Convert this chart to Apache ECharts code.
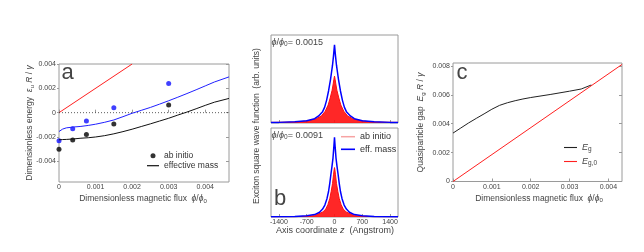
<!DOCTYPE html>
<html><head><meta charset="utf-8">
<script src="https://cdn.jsdelivr.net/npm/echarts@6/dist/echarts.min.js"></script>
<style>html,body{margin:0;padding:0;background:#fff}#c{width:644px;height:252px}</style>
</head><body><div id="c"></div><script>
// ---------- Panel a ----------
const aDotX = [0, 0.000375, 0.00075, 0.0015, 0.003];
const aDotBlack = [-0.0030, -0.00224, -0.0018, -0.00093, 0.00063];
const aDotBlue = [-0.0023, -0.00133, -0.00068, 0.00041, 0.0024];
const aLineX = [0, 0.00005, 0.0001, 0.0002, 0.0004, 0.0006, 0.0008, 0.001, 0.00125, 0.0015, 0.00175, 0.002, 0.00225, 0.0025, 0.00275, 0.003, 0.00325, 0.0035, 0.00375, 0.004, 0.00425, 0.00465];
const aLineBlue = [-0.00155, -0.00143, -0.00135, -0.00125, -0.00118, -0.00113, -0.00105, -0.00095, -0.00079, -0.0006, -0.00033, -0.00005, 0.00019, 0.00043, 0.0007, 0.00098, 0.00127, 0.00157, 0.00188, 0.0022, 0.00252, 0.00294];
const aLineBlack = [-0.00223, -0.00222, -0.00221, -0.0022, -0.00216, -0.0021, -0.00206, -0.002, -0.00189, -0.00174, -0.00156, -0.00136, -0.00114, -0.00092, -0.00069, -0.00046, -0.0002, 0.00005, 0.00032, 0.0006, 0.00086, 0.00117];
const aRedX = [0, 0.002];
const aRedY = [0, 0.004];
const aZeroX = [0, 0.00465];
const aTicksX = [0, 0.001, 0.002, 0.003, 0.004];
const aTicksY = [-0.004, -0.002, 0, 0.002, 0.004];

// ---------- Panel b ----------
const bTopBlueZ = [-1600,-1400,-1000,-700,-500,-400,-300,-250,-200,-150,-100,-75,-50,-25,0,25,50,75,100,150,200,250,300,400,500,700,1000,1400,1600];
const bTopBlue  = [0.006,0.008,0.015,0.03,0.055,0.09,0.145,0.2,0.29,0.41,0.56,0.65,0.74,0.86,1.0,0.86,0.74,0.65,0.56,0.41,0.29,0.2,0.145,0.09,0.055,0.03,0.015,0.008,0.006];
const bTopRedZ = [-1600,-1000,-700,-460,-330,-234,-160,-109,-60,-33,-15,0,15,33,60,109,160,234,330,460,700,1000,1600];
const bTopRed  = [0.008,0.012,0.025,0.055,0.09,0.15,0.23,0.32,0.42,0.5,0.56,0.6,0.56,0.5,0.42,0.32,0.23,0.15,0.09,0.055,0.025,0.012,0.008];
const bBotBlueZ = [-1600,-1000,-700,-500,-376,-300,-243,-190,-150,-120,-92,-65,-38,-18,0,18,38,65,92,120,150,190,243,300,376,500,700,1000,1600];
const bBotBlue  = [0.003,0.006,0.015,0.03,0.06,0.1,0.15,0.23,0.32,0.42,0.53,0.63,0.74,0.87,1.0,0.87,0.74,0.63,0.53,0.42,0.32,0.23,0.15,0.1,0.06,0.03,0.015,0.006,0.003];
const bBotRedZ = [-1600,-1000,-700,-500,-293,-220,-167,-120,-84,-50,-25,-10,0,10,25,50,84,120,167,220,293,500,700,1000,1600];
const bBotRed  = [0.004,0.005,0.008,0.018,0.063,0.1,0.155,0.23,0.32,0.42,0.53,0.59,0.62,0.59,0.53,0.42,0.32,0.23,0.155,0.1,0.063,0.018,0.008,0.005,0.004];
const bTicksX = [-1400, -700, 0, 700, 1400];

// ---------- Panel c ----------
const cX  = [0, 0.0002, 0.0004, 0.0006, 0.0008, 0.001, 0.0012, 0.0014, 0.0016, 0.0018, 0.002, 0.0025, 0.003, 0.0033, 0.00356];
const cEg = [0.00335, 0.0037, 0.00405, 0.00437, 0.00468, 0.005, 0.00527, 0.00545, 0.00559, 0.00571, 0.00581, 0.00602, 0.00625, 0.0064, 0.00668];
const cRedX = [0, 0.00435];
const cRedY = [0, 0.0081];
const cTicksX = [0, 0.001, 0.002, 0.003, 0.004];
const cTicksY = [0, 0.002, 0.004, 0.006, 0.008];

const zip = (xs, ys) => xs.map((x, i) => [x, ys[i]]);
const FONT = '"Liberation Sans", Arial, sans-serif';
const AX = '#9a9a9a';
const TXT = '#444';
const fmt3 = v => (Math.abs(v) < 1e-12 ? '0' : v.toFixed(3));

function xAx(grid, min, max, ticks, showLabels, fmt) {
  return {
    type: 'value', gridIndex: grid, min, max,
    axisLine: { show: false },
    splitLine: { show: false },
    axisTick: { show: true, inside: true, length: 3, customValues: ticks, lineStyle: { color: AX } },
    axisLabel: { show: showLabels, customValues: ticks, formatter: fmt, fontSize: 7, fontFamily: FONT, color: TXT, margin: 2 }
  };
}
function yAx(grid, min, max, ticks, showLabels, fmt, pos, inside) {
  return {
    type: 'value', gridIndex: grid, min, max, position: pos,
    axisLine: { show: false },
    splitLine: { show: false },
    axisTick: { show: !!ticks, inside: inside, length: inside ? 3 : 2, customValues: ticks || [], lineStyle: { color: AX } },
    axisLabel: { show: showLabels, customValues: ticks || [], formatter: fmt, fontSize: 7, fontFamily: FONT, color: TXT, margin: 3 }
  };
}

function rich(size) {
  const sz = Math.round(size * 0.72 * 10) / 10;
  return {
    t: { fontSize: size, fontFamily: FONT, fill: TXT, color: TXT, lineHeight: size + 2 },
    i: { fontSize: size, fontFamily: FONT, fill: TXT, color: TXT, fontStyle: 'italic', lineHeight: size + 2 },
    s: { fontSize: sz, fontFamily: FONT, fill: TXT, color: TXT, verticalAlign: 'bottom', lineHeight: sz + 1 }
  };
}
function gText(x, y, text, size, rot, align) {
  return {
    type: 'text', x, y, rotation: rot || 0,
    style: { text, rich: rich(size), align: align || 'center', verticalAlign: 'middle', fill: TXT, fontSize: size, fontFamily: FONT }
  };
}

const legendNames = {
  a_ab: 'ab initio', a_eff: 'effective mass',
  b_ab: 'ab initio', b_eff: 'eff. mass',
  c_eg: '{i|E}{s|g}', c_eg0: '{i|E}{s|g,0}'
};

const option = {
  backgroundColor: '#fff',
  animation: false,
  grid: [
    { left: 59, top: 64, width: 170, height: 118, show: true, borderColor: AX, borderWidth: 1, backgroundColor: 'transparent' },
    { left: 271, top: 35, width: 127, height: 88, show: true, borderColor: AX, borderWidth: 1, backgroundColor: 'transparent' },
    { left: 271, top: 128, width: 127, height: 89, show: true, borderColor: AX, borderWidth: 1, backgroundColor: 'transparent' },
    { left: 453, top: 63, width: 169, height: 118.5, show: true, borderColor: AX, borderWidth: 1, backgroundColor: 'transparent' }
  ],
  xAxis: [
    xAx(0, 0, 0.00465, aTicksX, true, fmt3),
    xAx(1, -1600, 1600, bTicksX, false),
    xAx(2, -1600, 1600, bTicksX, true, v => String(v)),
    xAx(3, 0, 0.00435, cTicksX, true, fmt3)
  ],
  yAxis: [
    yAx(0, -0.0057, 0.004, aTicksY, true, fmt3, 'left', false),
    yAx(0, -0.0057, 0.004, aTicksY, false, null, 'right', true),
    yAx(1, 0, 1.127, null, false, null, 'left', false),
    yAx(2, 0, 1.117, null, false, null, 'left', false),
    yAx(3, 0, 0.0082, cTicksY, true, fmt3, 'left', false),
    yAx(3, 0, 0.0082, cTicksY, false, null, 'right', true)
  ],
  legend: [
    {
      left: 147, top: 150.7, orient: 'vertical', itemWidth: 12, itemHeight: 5, itemGap: 0, padding: 0,
      selectedMode: false,
      data: [{ name: 'a_ab', icon: 'circle' }, { name: 'a_eff', icon: 'path://M0,0H12V1.2H0Z', itemStyle: { color: '#111' } }],
      formatter: n => legendNames[n],
      textStyle: { fontSize: 8.5, fontFamily: FONT, color: '#333', lineHeight: 10 }
    },
    {
      left: 341, top: 130.4, orient: 'vertical', itemWidth: 14, itemHeight: 8, itemGap: 0, padding: 0,
      selectedMode: false,
      data: [
        { name: 'b_ab', icon: 'path://M0,0H14V1.5H0Z', itemStyle: { color: '#f7a3a3' } },
        { name: 'b_eff', icon: 'path://M0,0H14V1.6H0Z', itemStyle: { color: '#0000ff' } }
      ],
      formatter: n => legendNames[n],
      textStyle: { fontSize: 9, fontFamily: FONT, color: '#333', lineHeight: 12.6 }
    },
    {
      left: 564, top: 143, orient: 'vertical', itemWidth: 13, itemHeight: 8, itemGap: 4, padding: 0,
      selectedMode: false,
      data: [
        { name: 'c_eg', icon: 'path://M0,0H13V1.1H0Z', itemStyle: { color: '#222' } },
        { name: 'c_eg0', icon: 'path://M0,0H13V1.1H0Z', itemStyle: { color: '#ff2020' } }
      ],
      formatter: n => legendNames[n],
      textStyle: { fontSize: 9, fontFamily: FONT, color: '#333', rich: rich(9) }
    }
  ],
  series: [
    // panel a
    { type: 'line', xAxisIndex: 0, yAxisIndex: 0, data: zip(aRedX, aRedY), symbol: 'none', lineStyle: { color: '#ff2020', width: 1 }, silent: true },
    { type: 'line', xAxisIndex: 0, yAxisIndex: 0, data: zip(aZeroX, [0, 0]), symbol: 'none', lineStyle: { color: '#333', width: 0.8, type: [1, 2] }, silent: true },
    { name: 'a_eff', type: 'line', xAxisIndex: 0, yAxisIndex: 0, data: zip(aLineX, aLineBlack), symbol: 'none', lineStyle: { color: '#111', width: 1 }, itemStyle: { color: '#111' } },
    { type: 'line', xAxisIndex: 0, yAxisIndex: 0, data: zip(aLineX, aLineBlue), symbol: 'none', lineStyle: { color: '#2020ff', width: 1 } },
    { name: 'a_ab', type: 'scatter', xAxisIndex: 0, yAxisIndex: 0, data: zip(aDotX, aDotBlack), symbol: 'circle', symbolSize: 5, itemStyle: { color: '#000' } },
    { type: 'scatter', xAxisIndex: 0, yAxisIndex: 0, data: zip(aDotX, aDotBlue), symbol: 'circle', symbolSize: 5, itemStyle: { color: '#1010ff' } },
    // panel b top
    { name: 'b_ab', type: 'line', xAxisIndex: 1, yAxisIndex: 2, data: zip(bTopRedZ, bTopRed), symbol: 'none', lineStyle: { color: '#ff1010', width: 1 }, areaStyle: { color: '#ff1010', opacity: 0.9 }, itemStyle: { color: '#ff1010' } },
    { name: 'b_eff', type: 'line', xAxisIndex: 1, yAxisIndex: 2, data: zip(bTopBlueZ, bTopBlue), symbol: 'none', lineStyle: { color: '#0000ff', width: 1.5 }, itemStyle: { color: '#0000ff' } },
    // panel b bottom
    { type: 'line', xAxisIndex: 2, yAxisIndex: 3, data: zip(bBotRedZ, bBotRed), symbol: 'none', lineStyle: { color: '#ff1010', width: 1 }, areaStyle: { color: '#ff1010', opacity: 0.9 } },
    { type: 'line', xAxisIndex: 2, yAxisIndex: 3, data: zip(bBotBlueZ, bBotBlue), symbol: 'none', lineStyle: { color: '#0000ff', width: 1.5 } },
    // panel c
    { name: 'c_eg', type: 'line', xAxisIndex: 3, yAxisIndex: 4, data: zip(cX, cEg), symbol: 'none', lineStyle: { color: '#222', width: 1 }, itemStyle: { color: '#222' } },
    { name: 'c_eg0', type: 'line', xAxisIndex: 3, yAxisIndex: 4, data: zip(cRedX, cRedY), symbol: 'none', lineStyle: { color: '#ff2020', width: 1 }, itemStyle: { color: '#ff2020' } }
  ],
  graphic: [
    gText(67.5, 73, '{t|a}', 22),
    gText(280, 199, '{t|b}', 22),
    gText(462, 73, '{t|c}', 22),
    gText(271.5, 42.7, '{i|ϕ}{t|/}{i|ϕ}{s|0}{t|= 0.0015}', 9, 0, 'left'),
    gText(271.5, 135.7, '{i|ϕ}{t|/}{i|ϕ}{s|0}{t|= 0.0091}', 9, 0, 'left'),
    gText(143, 199, '{t|Dimensionless magnetic flux  }{i|ϕ}{t|/}{i|ϕ}{s|0}', 8.5),
    gText(539, 198.3, '{t|Dimensionless magnetic flux  }{i|ϕ}{t|/}{i|ϕ}{s|0}', 8.5),
    gText(335, 230.7, '{t|Axis coordinate }{i|z}{t|  (Angstrom)}', 9),
    gText(30, 123, '{t|Dimensionless energy  }{i|ε}{s|u}{t| }{i|R}{t| / }{i|γ}', 8.5, Math.PI / 2),
    gText(256.5, 126, '{t|Exciton square wave function  (arb. units)}', 8.5, Math.PI / 2),
    gText(421, 122.5, '{t|Quasiparticle gap  }{i|E}{s|g}{t| }{i|R}{t| / }{i|γ}', 8.5, Math.PI / 2)
  ]
};

const chart = echarts.init(document.getElementById('c'), null, { renderer: 'canvas' });
chart.setOption(option);
</script></body></html>
